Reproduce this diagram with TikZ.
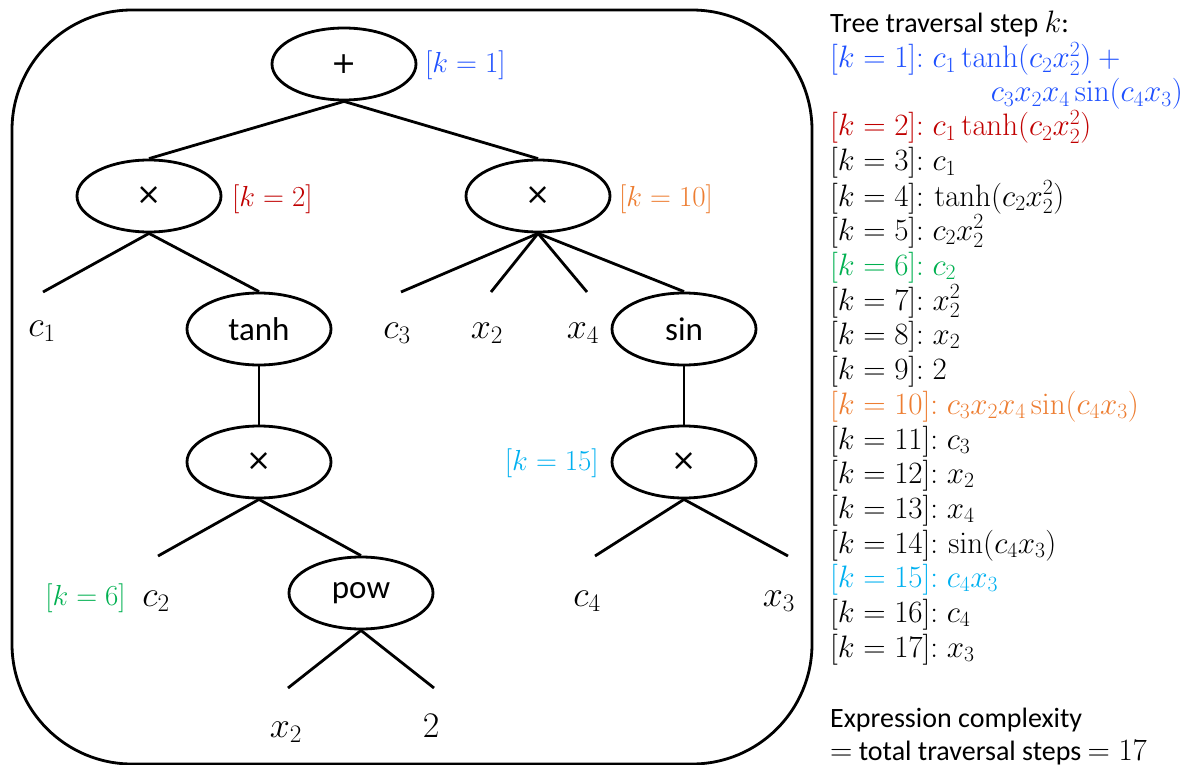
\RequirePackage{fix-cm}
\documentclass[tikz,border=0pt]{standalone}
\usepackage[no-math]{fontspec}
\setmainfont{Carlito}
\newfontfamily\symfnt{DejaVu Sans}
\usetikzlibrary{shapes.geometric}
\definecolor{kblue}{RGB}{30,80,255}
\definecolor{kred}{RGB}{192,0,0}
\definecolor{korange}{RGB}{237,125,49}
\definecolor{kgreen}{RGB}{0,176,80}
\definecolor{kcyan}{RGB}{0,176,240}
\newcommand{\mfnt}{\fontsize{31}{34}\selectfont}
\begin{document}
\begin{tikzpicture}[x=1pt,y=-1pt,
  op/.style={ellipse,draw,line width=2.8pt,minimum width=144pt,minimum height=72pt,inner sep=0pt,font=\fontsize{33}{36}\selectfont},
  sym/.style={op,font=\fontsize{30}{36}\selectfont\symfnt},
  edge/.style={line width=2.8pt},
  leaf/.style={inner sep=0pt,font=\fontsize{36}{38}\selectfont},
  klab/.style={inner sep=0pt,font=\fontsize{29}{34}\selectfont},
  txt/.style={anchor=base west,inner sep=0pt,font=\fontsize{28}{34}\selectfont},
  mtxt/.style={anchor=base west,inner sep=0pt,font=\mfnt}]
\useasboundingbox (0,0) rectangle (1186,765);
\draw[line width=2.8pt,rounded corners=120pt] (12,10) rectangle (812,764);

% operator nodes
\node[sym] (plus) at (344,64) {+};
\node[sym] (mulL) at (149,196) {×};
\node[sym] (mulR) at (538,196) {×};
\node[op] (tanh) at (259,329) {tanh};
\node[op] (sin) at (684,329) {sin};
\node[sym] (mulT) at (259,462) {×};
\node[sym] (mulS) at (684,462) {×};
\node[op] (pow) at (361,593) {pow};

% leaves
\node[leaf] (c1) at (42,331) {$c_1$};
\node[leaf] (c3) at (397,333) {$c_3$};
\node[leaf] (x2a) at (487,333) {$x_2$};
\node[leaf] (x4) at (583,333) {$x_4$};
\node[leaf] (c2) at (156,601) {$c_2$};
\node[leaf] (c4) at (587,601) {$c_4$};
\node[leaf] (x3) at (779,601) {$x_3$};
\node[leaf] (x2b) at (286,732) {$x_2$};
\node[leaf] (two) at (431,726) {$2$};

% leaf connector ends
\coordinate (e1) at (43,292);
\coordinate (e3) at (401,292);
\coordinate (e2a) at (491,292);
\coordinate (e4) at (587,292);
\coordinate (ec2) at (158,556);
\coordinate (ec4) at (595,556);
\coordinate (ex3) at (788,556);
\coordinate (ex2) at (288,688);
\coordinate (etwo) at (434,688);

% connectors
\draw[edge] (plus.south) -- (mulL.north);
\draw[edge] (plus.south) -- (mulR.north);
\draw[edge] (mulL.south) -- (e1);
\draw[edge] (mulL.south) -- (tanh.north);
\draw[edge] (mulR.south) -- (e3);
\draw[edge] (mulR.south) -- (e2a);
\draw[edge] (mulR.south) -- (e4);
\draw[edge] (mulR.south) -- (sin.north);
\draw[edge] (tanh.south) -- (mulT.north);
\draw[edge] (sin.south) -- (mulS.north);
\draw[edge] (mulT.south) -- (ec2);
\draw[edge] (mulT.south) -- (pow.north);
\draw[edge] (mulS.south) -- (ec4);
\draw[edge] (mulS.south) -- (ex3);
\draw[edge] (pow.south) -- (ex2);
\draw[edge] (pow.south) -- (etwo);

% step labels in tree
\node[klab,text=kblue,anchor=west] (l1) at (425,65) {$[k=1]$};
\node[klab,text=kred,anchor=west] (l2) at (232,199) {$[k=2]$};
\node[klab,text=korange,anchor=west] (l10) at (619,199) {$[k=10]$};
\node[klab,text=kcyan,anchor=east] (l15) at (599,463) {$[k=15]$};
\node[klab,text=kgreen,anchor=east] (l6) at (126,598) {$[k=6]$};

% right column
\node[txt] (t0) at (830,33) {Tree traversal step {\mfnt$k$}:};
\node[mtxt,text=kblue] (t1) at (830,68) {$[k=1]{:}\;c_1\tanh(c_2x_2^2)+{}$};
\node[mtxt,text=kblue,anchor=base east] (t1b) at (1183,102) {$c_3x_2x_4\sin(c_4x_3)$};
\node[mtxt,text=kred] (t2) at (830,136) {$[k=2]{:}\;c_1\tanh(c_2x_2^2)$};
\node[mtxt] (t3) at (830,171) {$[k=3]{:}\;c_1$};
\node[mtxt] (t4) at (830,206) {$[k=4]{:}\,\tanh(c_2x_2^2)$};
\node[mtxt] (t5) at (830,240) {$[k=5]{:}\;c_2x_2^2$};
\node[mtxt,text=kgreen] (t6) at (830,275) {$[k=6]{:}\;c_2$};
\node[mtxt] (t7) at (830,310) {$[k=7]{:}\;x_2^2$};
\node[mtxt] (t8) at (830,344) {$[k=8]{:}\;x_2$};
\node[mtxt] (t9) at (830,379) {$[k=9]{:}\;2$};
\node[mtxt,text=korange] (t10) at (830,414) {$[k=10]{:}\;c_3x_2x_4\sin(c_4x_3)$};
\node[mtxt] (t11) at (830,449) {$[k=11]{:}\;c_3$};
\node[mtxt] (t12) at (830,483) {$[k=12]{:}\;x_2$};
\node[mtxt] (t13) at (830,518) {$[k=13]{:}\;x_4$};
\node[mtxt] (t14) at (830,553) {$[k=14]{:}\,\sin(c_4x_3)$};
\node[mtxt,text=kcyan] (t15) at (830,587) {$[k=15]{:}\;c_4x_3$};
\node[mtxt] (t16) at (830,622) {$[k=16]{:}\;c_4$};
\node[mtxt] (t17) at (830,657) {$[k=17]{:}\;x_3$};
\node[txt] (t18) at (830,727) {Expression complexity};
\node[txt] (t19) at (830,760) {{\mfnt$=$} total traversal steps {\mfnt$=17$}};
\end{tikzpicture}
\end{document}
